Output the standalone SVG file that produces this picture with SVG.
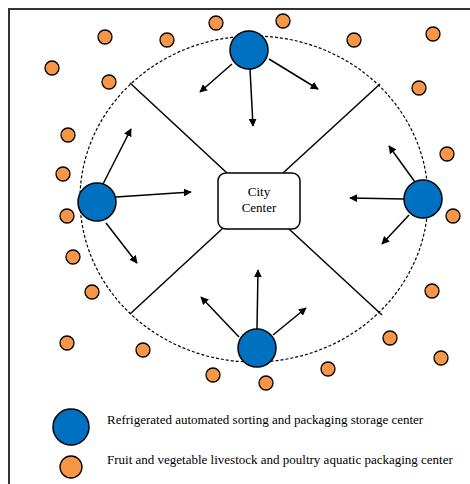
<svg xmlns="http://www.w3.org/2000/svg" width="470" height="484" viewBox="0 0 470 484">
<style>
.hub{fill:#0070c0;stroke:#000;stroke-width:1.5}
.dot{fill:#f79646;stroke:#000;stroke-width:1.3}
.spoke{stroke:#000;stroke-width:1.5;fill:none}
.arr{stroke:#000;stroke-width:1.5;fill:none;marker-end:url(#ah)}
.t{font-family:"Liberation Serif","Times New Roman",serif;fill:#000}
</style>
<defs>
<marker id="ah" viewBox="0 0 10 10" refX="9" refY="5" markerWidth="8" markerHeight="8" markerUnits="userSpaceOnUse" orient="auto">
<path d="M0,0 L10,5 L0,10 z" fill="#000"/>
</marker>
</defs>
<rect width="470" height="484" fill="#fff"/>
<rect x="9" y="9" width="480" height="500" fill="none" stroke="#333" stroke-width="2"/>
<ellipse id="ring" cx="254" cy="199" rx="174" ry="163" fill="none" stroke="#000" stroke-width="1.2" stroke-dasharray="3,2"/>
<g id="connectors">
<line class="spoke" x1="130" y1="83" x2="227" y2="173"/>
<line class="spoke" x1="380" y1="84" x2="283" y2="173"/>
<line class="spoke" x1="222" y1="229" x2="130" y2="314"/>
<line class="spoke" x1="289" y1="229" x2="382" y2="315"/>
<line class="arr" x1="232" y1="64" x2="200" y2="92"/>
<line class="arr" x1="250" y1="69" x2="253" y2="126"/>
<line class="arr" x1="269" y1="59" x2="318" y2="89"/>
<line class="arr" x1="103" y1="184" x2="131" y2="129"/>
<line class="arr" x1="116" y1="197" x2="191" y2="192"/>
<line class="arr" x1="106" y1="223" x2="137" y2="263"/>
<line class="arr" x1="415" y1="182" x2="389" y2="146"/>
<line class="arr" x1="404" y1="199" x2="350" y2="198"/>
<line class="arr" x1="409" y1="215" x2="382" y2="244"/>
<line class="arr" x1="257" y1="329" x2="258" y2="270"/>
<line class="arr" x1="239" y1="337" x2="201" y2="297"/>
<line class="arr" x1="273" y1="335" x2="306" y2="308"/>
</g>
<g id="city-center">
<rect x="218" y="173" width="82" height="56" rx="8" fill="#fff" stroke="#000" stroke-width="1.5"/>
<text class="t" x="259" y="196" font-size="13" text-anchor="middle">City</text>
<text class="t" x="259" y="212" font-size="13" text-anchor="middle">Center</text>
</g>
<g id="hub-top"><circle class="hub" cx="249" cy="50" r="19"/></g>
<g id="hub-left"><circle class="hub" cx="97" cy="202" r="19"/></g>
<g id="hub-right"><circle class="hub" cx="423" cy="199" r="19"/></g>
<g id="hub-bottom"><circle class="hub" cx="257" cy="348" r="19"/></g>
<g id="dots">
<circle class="dot" cx="105" cy="37" r="7"/>
<circle class="dot" cx="167" cy="40" r="7"/>
<circle class="dot" cx="216" cy="23" r="7"/>
<circle class="dot" cx="283" cy="21" r="7"/>
<circle class="dot" cx="354" cy="40" r="7"/>
<circle class="dot" cx="433" cy="34" r="7"/>
<circle class="dot" cx="52" cy="68" r="7"/>
<circle class="dot" cx="109" cy="82" r="7"/>
<circle class="dot" cx="419" cy="88" r="7"/>
<circle class="dot" cx="68" cy="135" r="7"/>
<circle class="dot" cx="447" cy="154" r="7"/>
<circle class="dot" cx="63" cy="174" r="7"/>
<circle class="dot" cx="67" cy="216" r="7"/>
<circle class="dot" cx="453" cy="216" r="7"/>
<circle class="dot" cx="73" cy="257" r="7"/>
<circle class="dot" cx="92" cy="292" r="7"/>
<circle class="dot" cx="432" cy="291" r="7"/>
<circle class="dot" cx="67" cy="343" r="7"/>
<circle class="dot" cx="143" cy="350" r="7"/>
<circle class="dot" cx="390" cy="338" r="7"/>
<circle class="dot" cx="441" cy="358" r="7"/>
<circle class="dot" cx="213" cy="375" r="7"/>
<circle class="dot" cx="266" cy="383" r="7"/>
<circle class="dot" cx="328" cy="369" r="7"/>
</g>
<g id="legend-hub">
<circle class="hub" cx="71" cy="427" r="18"/>
<text class="t" x="107" y="424" font-size="13">Refrigerated automated sorting and packaging storage center</text>
</g>
<g id="legend-dot">
<circle class="dot" cx="71" cy="467" r="11"/>
<text class="t" x="107" y="464" font-size="13">Fruit and vegetable livestock and poultry aquatic packaging center</text>
</g>
</svg>
